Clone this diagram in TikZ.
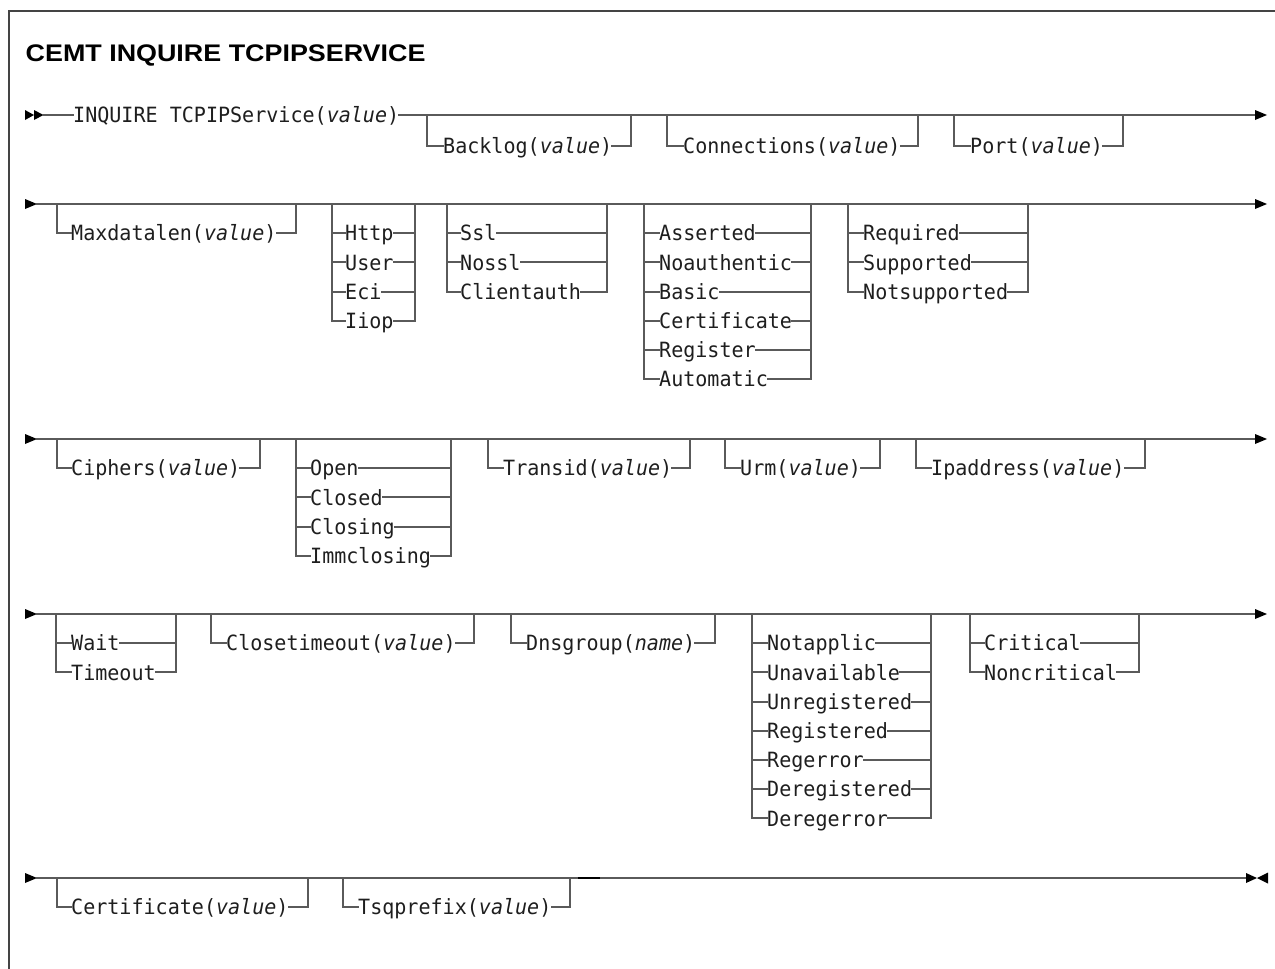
\documentclass[tikz,border=0pt]{standalone}
\usepackage{fontspec}
\setmonofont[ItalicFont={DejaVu Sans Mono Oblique},FakeStretch=0.955]{DejaVu Sans Mono}
\newfontfamily\titlefont[FakeStretch=1.12]{Liberation Sans}
\definecolor{railgray}{HTML}{5A5A5A}
\definecolor{txtcol}{HTML}{1E1E1E}
\definecolor{framegray}{HTML}{444444}

\newcommand\OptBr[7]{% name, main y, branch y, left x, text x, right x, text
  \node[lbl] (#1) at (#5,#3+7.6) {#7};
  \draw[rail] (#4,#2) -- (#4,#3) -- (#1.west |- 0,#3);
  \draw[rail] (#1.east |- 0,#3) -- (#6,#3) -- (#6,#2);
}
\newcommand\ChoiceGrp[6]{% prefix, main y, left x, text x, right x, items
  \foreach \t [count=\k] in {#6} {
    \pgfmathsetmacro\yy{#2+29.2*\k}
    \node[lbl] (#1\k) at (#4,\yy+7.6) {\t};
    \draw[rail] (#3,\yy) -- (#1\k.west |- 0,\yy);
    \draw[rail] (#1\k.east |- 0,\yy) -- (#5,\yy);
    \xdef\lastyy{\yy}
  }
  \draw[rail] (#3,#2) -- (#3,\lastyy);
  \draw[rail] (#5,#2) -- (#5,\lastyy);
}
\newcommand\ArrR[3]{\fill[black] (#1,#2-5) -- (#1+#3,#2) -- (#1,#2+5) -- cycle;}
\newcommand\ArrL[3]{\fill[black] (#1+#3,#2-5.5) -- (#1,#2) -- (#1+#3,#2+5.5) -- cycle;}

\begin{document}
\begin{tikzpicture}[x=1pt,y=-1pt,
  rail/.style={draw=railgray, line width=1.9pt, line cap=rect, line join=miter},
  lbl/.style={anchor=base west, inner sep=0pt, text=txtcol,
    font=\fontsize{21}{25}\selectfont\ttfamily}]
\useasboundingbox (0,0) rectangle (1275,969);
\fill[white] (0,0) rectangle (1275,969);

% frame
\draw[line width=1.5pt, framegray] (9,969) -- (9,11) -- (1275,11);

% title
\node[anchor=base west, inner sep=0pt, text=black,
  font=\fontsize{24}{29}\selectfont\titlefont\bfseries] (title) at (25.5,61) {CEMT INQUIRE TCPIPSERVICE};

% ---------- row 1 ----------
\ArrR{25}{115}{9}
\ArrR{34}{115}{9.5}
\node[lbl] (inq) at (73,115+7.6) {INQUIRE TCPIPService(\textit{value})};
\draw[rail] (43,115) -- (inq.west |- 0,115);
\draw[rail] (inq.east |- 0,115) -- (1255,115);
\ArrR{1255}{115}{12}
\OptBr{backlog}{115}{146}{427}{443}{631}{Backlog(\textit{value})}
\OptBr{conn}{115}{146}{667}{683}{918}{Connections(\textit{value})}
\OptBr{port}{115}{146}{954}{970}{1123}{Port(\textit{value})}

% ---------- row 2 ----------
\ArrR{25}{204}{12}
\draw[rail] (37,204) -- (1255,204);
\ArrR{1255}{204}{12}
\OptBr{maxd}{204}{233.2}{57}{71}{296}{Maxdatalen(\textit{value})}
\ChoiceGrp{prot}{204}{332}{345}{415}{Http,User,Eci,Iiop}
\ChoiceGrp{ssl}{204}{447}{460}{607}{Ssl,Nossl,Clientauth}
\ChoiceGrp{auth}{204}{644}{659}{811}{Asserted,Noauthentic,Basic,Certificate,Register,Automatic}
\ChoiceGrp{priv}{204}{848}{863}{1028}{Required,Supported,Notsupported}

% ---------- row 3 ----------
\ArrR{25}{439}{12}
\draw[rail] (37,439) -- (1255,439);
\ArrR{1255}{439}{12}
\OptBr{ciph}{439}{468.2}{57}{71}{260}{Ciphers(\textit{value})}
\ChoiceGrp{stat}{439}{296}{310}{451}{Open,Closed,Closing,Immclosing}
\OptBr{trans}{439}{468.2}{488}{503}{690}{Transid(\textit{value})}
\OptBr{urm}{439}{468.2}{725}{740}{880}{Urm(\textit{value})}
\OptBr{ipad}{439}{468.2}{916}{931}{1145}{Ipaddress(\textit{value})}

% ---------- row 4 ----------
\ArrR{25}{614}{12}
\draw[rail] (37,614) -- (1255,614);
\ArrR{1255}{614}{12}
\ChoiceGrp{wait}{614}{56}{71}{176}{Wait,Timeout}
\OptBr{clto}{614}{643.2}{211}{226}{474}{Closetimeout(\textit{value})}
\OptBr{dnsg}{614}{643.2}{511}{526}{715}{Dnsgroup(\textit{name})}
\ChoiceGrp{dnss}{614}{752}{767}{931}{Notapplic,Unavailable,Unregistered,Registered,Regerror,Deregistered,Deregerror}
\ChoiceGrp{crit}{614}{970}{984}{1139}{Critical,Noncritical}

% ---------- row 5 ----------
\ArrR{25}{878}{12}
\draw[rail] (37,878) -- (1246,878);
\draw[line width=2.3pt, black] (578,878) -- (600,878);
\OptBr{cert}{878}{907}{57}{71}{308}{Certificate(\textit{value})}
\OptBr{tsq}{878}{907}{343}{358}{570}{Tsqprefix(\textit{value})}
\ArrR{1246}{878}{11}
\ArrL{1257}{878}{11}
\end{tikzpicture}
\end{document}
